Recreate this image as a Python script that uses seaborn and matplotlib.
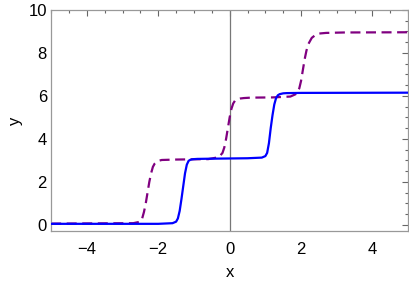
import pandas as pd
import matplotlib.pyplot as plt
from matplotlib.ticker import MultipleLocator
import seaborn as sns

# ==========================================
#  DATA
# ==========================================
blue_x = [-5, -2, -1.6, -1.5, -1.45, -1.4, -1.35, -1.3, -1.25, -1.2, -1.15, -1.1,
          -1.05, -1.0, -0.9, -0.5, 0.5, 0.9, 1.0, 1.05, 1.1, 1.15, 1.2, 1.25,
          1.3, 1.35, 1.4, 1.5, 1.6, 2.0, 5]
blue_y = [0.05, 0.05, 0.08, 0.15, 0.3, 0.65, 1.2, 1.8, 2.4, 2.8, 2.98, 3.03,
          3.05, 3.06, 3.07, 3.08, 3.1, 3.13, 3.2, 3.35, 3.8, 4.5, 5.1, 5.6,
          5.9, 6.03, 6.08, 6.12, 6.13, 6.14, 6.15]

purple_x = [-5, -2.7, -2.5, -2.45, -2.4, -2.35, -2.3, -2.25, -2.2, -2.15, -2.1,
            -2.05, -2.0, -1.9, -1.5, -0.6, -0.3, -0.2, -0.15, -0.1, -0.05, 0.0,
            0.05, 0.1, 0.15, 0.2, 0.3, 0.4, 0.6, 1.2, 1.7, 1.85, 1.95, 2.0, 2.05,
            2.1, 2.15, 2.2, 2.3, 2.4, 2.5, 2.7, 3.2, 5]
purple_y = [0.06, 0.08, 0.15, 0.3, 0.6, 1.0, 1.5, 2.0, 2.4, 2.7, 2.85,
            2.93, 2.98, 3.02, 3.04, 3.06, 3.15, 3.35, 3.6, 4.0, 4.5, 5.0,
            5.4, 5.65, 5.78, 5.83, 5.88, 5.9, 5.92, 5.93, 5.97, 6.08, 6.35, 6.7, 7.2,
            7.7, 8.1, 8.4, 8.7, 8.83, 8.9, 8.93, 8.95, 8.96]

blue = pd.DataFrame({"x": blue_x, "y": blue_y})
purple = pd.DataFrame({"x": purple_x, "y": purple_y})

# ==========================================
#  PLOT
# ==========================================
sns.set_style("white")
plt.rcParams['font.family'] = ['Liberation Sans', 'DejaVu Sans']

fig = plt.figure(figsize=(4.09, 2.83), dpi=100)
ax = fig.add_axes([0.125, 0.184, 0.873, 0.781])

ax.axvline(0, color="#777777", lw=0.9, zorder=1)
sns.lineplot(data=purple, x="x", y="y", ax=ax, color="#800080", lw=1.6,
             linestyle=(0, (4.5, 2.5)), sort=False, zorder=2)
sns.lineplot(data=blue, x="x", y="y", ax=ax, color="#0000ff", lw=1.6,
             sort=False, zorder=3)

ax.set_xlim(-5, 5)
ax.set_ylim(-0.28, 10)
ax.set_xticks([-4, -2, 0, 2, 4])
ax.set_yticks([0, 2, 4, 6, 8, 10])
ax.xaxis.set_minor_locator(MultipleLocator(0.5))
ax.yaxis.set_minor_locator(MultipleLocator(0.5))
ax.set_xticklabels(["\u22124", "\u22122", "0", "2", "4"])
ax.tick_params(which="both", direction="in", top=True, right=True,
               color="#666666", labelsize=12, labelcolor="black", width=0.8)
ax.tick_params(which="major", length=4.5)
ax.tick_params(axis="x", which="major", pad=8)
ax.tick_params(axis="y", which="major", pad=3)
ax.tick_params(which="minor", length=2.5)
for s in ax.spines.values():
    s.set_color("#999999")
    s.set_linewidth(0.9)

ax.set_xlabel("x", fontsize=12, color="black", labelpad=6)
ax.set_ylabel("y", fontsize=12, color="black", labelpad=4)

plt.savefig("out.png", dpi=100)
